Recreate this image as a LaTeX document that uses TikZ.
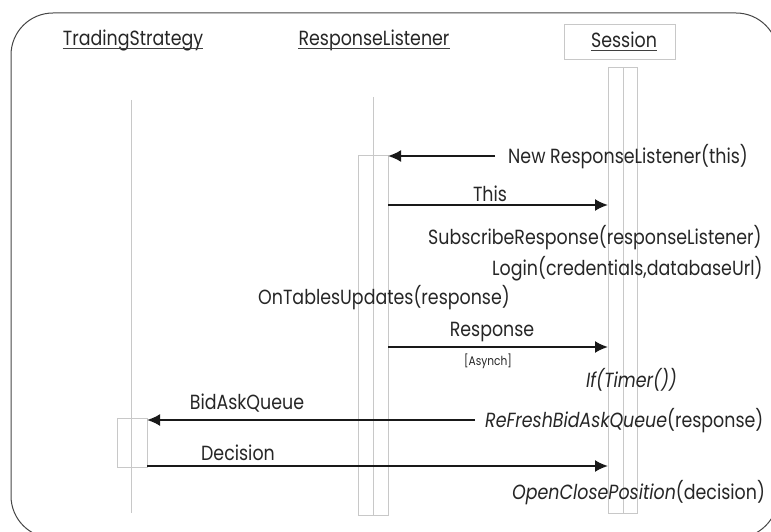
\documentclass[tikz,border=0pt]{standalone}
\usepackage{fontspec}
\setmainfont[FakeStretch=0.85]{Poppins}
\usetikzlibrary{arrows.meta}
\tikzset{>={Latex[length=13pt,width=12pt]}}
\definecolor{linegray}{RGB}{200,200,200}
\definecolor{framegray}{RGB}{70,70,70}

\begin{document}
\begin{tikzpicture}[x=1pt,y=-1pt,
  lifeline/.style={draw=linegray, line width=0.8pt},
  actbox/.style={draw=linegray, line width=0.8pt},
  msg/.style={->, line width=2pt, draw=black!90},
  lbl/.style={font=\fontsize{20.5}{20.5}\selectfont, inner sep=0pt, text=black!85},
  hdr/.style={lbl},
  uline/.style={draw=black!75, line width=1pt}]
\useasboundingbox (0,0) rectangle (771,532);
\draw[rounded corners=42pt, draw=framegray, line width=1pt] (11,13) rectangle (778,538);

% objects
\node[hdr] (trading) at (133,40) {TradingStrategy};
\node[hdr] (listener) at (374,40) {ResponseListener};
\node[draw=linegray, line width=0.8pt, minimum width=111pt, minimum height=35pt] (sessionbox) at (620,41.5) {};
\node[hdr] (session) at (624,40) {Session};
\foreach \obj in {trading,listener,session}
  \draw[uline] ([yshift=-3pt]\obj.base west) -- ([yshift=-3pt]\obj.base east);

% lifelines and activations
\draw[lifeline] (131,100) -- (131,513);
\draw[lifeline] (373,97) -- (373,515);
\draw[actbox] (358,155) rectangle (388,515);
\draw[actbox] (608,67) rectangle (637,513);
\draw[lifeline] (623,67) -- (623,513);
\draw[actbox] (117,418) rectangle (147,467);

\coordinate (rlA) at (388,156);
\coordinate (rlB) at (388,205);
\coordinate (rlC) at (388,347);
\coordinate (seB) at (608,205);
\coordinate (seC) at (608,347);
\coordinate (seD) at (608,466);
\coordinate (tsA) at (147,420);
\coordinate (tsB) at (147,466);
\coordinate (fromA) at (495,156);
\coordinate (fromD) at (475,420);

% messages
\draw[msg] (fromA) -- (rlA);
\node[lbl, anchor=west] (newrl) at (508,157) {New ResponseListener(this)};

\draw[msg] (rlB) -- (seB);
\node[lbl] (this) at (490,194) {This};
\node[lbl, anchor=west] (subscribe) at (428,238) {SubscribeResponse(responseListener)};
\node[lbl, anchor=west] (login) at (492,269) {Login(credentials,databaseUrl)};
\node[lbl, anchor=west] (update) at (258,298) {OnTablesUpdates(response)};

\draw[msg] (rlC) -- (seC);
\node[lbl] (resp) at (492,332) {Response};
\node[lbl, font=\fontsize{12.5}{12.5}\selectfont] (asynch) at (488,361) {[Asynch]};

\node[lbl, anchor=west] (timer) at (586,380) {\itshape If(Timer())};
\draw[msg] (fromD) -- (tsA);
\node[lbl] (queue) at (247,403) {BidAskQueue};
\node[lbl, anchor=west] (refresh) at (485,421) {\textit{ReFreshBidAskQueue}(response)};

\draw[msg] (tsB) -- (seD);
\node[lbl] (decision) at (238,453) {Decision};
\node[lbl, anchor=west] (position) at (512,493) {\textit{OpenClosePosition}(decision)};
\end{tikzpicture}
\end{document}
